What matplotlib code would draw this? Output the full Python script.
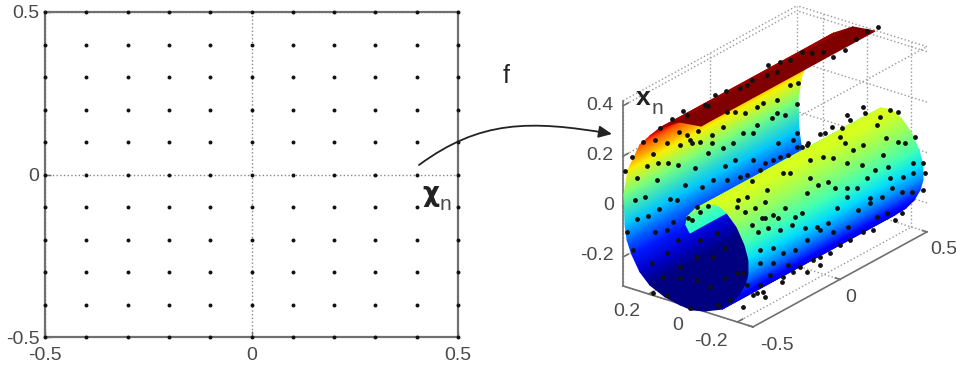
import numpy as np
import matplotlib
matplotlib.use('Agg')
import matplotlib.pyplot as plt
from matplotlib.patches import FancyArrowPatch
from matplotlib.path import Path

plt.rcParams['font.family'] = ['Liberation Sans', 'DejaVu Sans']

W, H = 956, 368
TXT = '#4a4a4a'
LINE = '#707070'

"----------------------------------- Data -----------------------------------"

# left panel: regular grid of samples
grid_x = [-0.5, -0.4, -0.3, -0.2, -0.1, 0, 0.1, 0.2, 0.3, 0.4, 0.5]
grid_y = [-0.5, -0.4, -0.3, -0.2, -0.1, 0, 0.1, 0.2, 0.3, 0.4, 0.5]
left_ticks = [-0.5, 0, 0.5]
left_labels = ['-0.5', '0', '0.5']

# right panel: cross section of the roll, free inner edge -> outer end
roll_y = [0.014, 0.032, 0.027, -0.009, -0.063, -0.113, -0.153, -0.198, -0.234,
          -0.252, -0.252, -0.239, -0.212, -0.176, -0.131, -0.054, 0.005, 0.059,
          0.126, 0.194, 0.239, 0.275, 0.297, 0.306, 0.311, 0.293, 0.239, 0.194,
          0.149, 0.063, -0.036]
roll_z = [-0.021, 0.006, 0.039, 0.080, 0.119, 0.125, 0.104, 0.062, 0.0,
          -0.055, -0.114, -0.157, -0.205, -0.246, -0.283, -0.312, -0.324, -0.319,
          -0.306, -0.278, -0.238, -0.180, -0.128, -0.070, 0.047, 0.151, 0.266, 0.314,
          0.358, 0.406, 0.417]
roll_x_ends = [-0.5, 0.5]

box_x = [-0.5, 0.5]
box_y = [-0.27, 0.315]
box_z = [-0.315, 0.42]
tick_x = [-0.5, 0, 0.5]
tick_y = [-0.2, 0, 0.2]
tick_z = [-0.2, 0, 0.2, 0.4]

dots_zoom = [
    (893, 80), (860, 92), (828, 118), (795, 150), (760, 170), (730, 155), (695, 158),
    (665, 157), (630, 180), (600, 185), (565, 195), (590, 215), (560, 225), (515, 240),
    (500, 255), (480, 265), (437, 272), (405, 285), (375, 315), (385, 318), (308, 332),
    (320, 345), (275, 358), (240, 383), (190, 425), (225, 420), (297, 395), (320, 405),
    (355, 393), (330, 420), (395, 405), (430, 380), (465, 335), (440, 335), (495, 340),
    (550, 308), (530, 320), (590, 300), (630, 255), (655, 250), (650, 313), (590, 340),
    (615, 345), (575, 355), (530, 375), (490, 400), (520, 400), (460, 430), (430, 445),
    (395, 430), (360, 425), (335, 430), (300, 435), (260, 430), (218, 462), (155, 470),
    (135, 512), (200, 497), (235, 490), (265, 488), (295, 495), (345, 505), (385, 458),
    (435, 497), (465, 480), (520, 480), (555, 490), (580, 480), (600, 470), (625, 465),
    (665, 440), (595, 430), (685, 430), (640, 420), (650, 400),
    (170, 535), (230, 540), (165, 600), (195, 590), (270, 597), (315, 555), (365, 560),
    (400, 540), (440, 540), (480, 530), (500, 525), (540, 510), (170, 658), (205, 648),
    (238, 628), (290, 600), (350, 620), (325, 655), (335, 660), (385, 617), (360, 635),
    (280, 665), (225, 695), (260, 690), (140, 697), (160, 750), (260, 760), (295, 720),
    (360, 720), (410, 700), (435, 745), (400, 770), (350, 770), (300, 800), (215, 790),
    (250, 830), (300, 835), (350, 840), (390, 860), (435, 835), (470, 820), (490, 820),
    (220, 880), (260, 885), (330, 925), (415, 915), (450, 900), (490, 920), (530, 880),
    (550, 875), (555, 890), (500, 855),
    (735, 400), (720, 402), (755, 380), (785, 385), (810, 360), (800, 345), (850, 320),
    (855, 340), (900, 350), (930, 330), (955, 335), (890, 375), (1005, 410), (975, 430),
    (955, 425), (918, 415), (850, 435), (820, 450), (795, 430), (780, 410), (730, 470),
    (680, 435), (650, 440), (690, 480), (760, 475), (800, 490), (845, 495), (910, 465),
    (885, 510), (925, 500), (1000, 490), (1030, 490), (1035, 520), (1000, 520), (970, 530),
    (930, 535), (860, 535), (690, 535), (715, 555), (745, 545), (765, 565), (800, 565),
    (830, 565), (905, 590), (935, 565), (965, 575), (995, 575), (1030, 570), (870, 595),
    (870, 610), (800, 590), (680, 578), (630, 520), (610, 518), (515, 543), (560, 570),
    (500, 590), (475, 600), (555, 605), (470, 620), (495, 635), (525, 625), (615, 625),
    (645, 650), (595, 655), (580, 645), (555, 655), (665, 640), (710, 680), (745, 670),
    (770, 625), (835, 630), (890, 650), (920, 640), (965, 640), (945, 660), (880, 690),
    (850, 695), (805, 680), (760, 695), (720, 690), (675, 685), (635, 675), (600, 690),
    (565, 685), (535, 695), (545, 655), (515, 675), (540, 750), (580, 745), (610, 760),
    (645, 750), (680, 720), (750, 760), (720, 770), (700, 780), (660, 800), (625, 795),
    (580, 790), (540, 790), (570, 825), (610, 830), (680, 815), (720, 795), (520, 885),
    (540, 855), (605, 845), (640, 815), (810, 720), (780, 735),
]
dot_px = [580 + p[0] / 3 for p in dots_zoom]
dot_py = [p[1] / 3 for p in dots_zoom]


def project(x, y, z):
    # oblique view of the 3d box, into picture pixels
    x, y, z = np.asarray(x, float), np.asarray(y, float), np.asarray(z, float)
    px = 693 + (x + 0.5) * 174 - y * 222
    py = 308 - (x + 0.5) * 95 - y * 70 - (z + 0.315) * 252
    return px, py


"-------------------------------- Left panel --------------------------------"

fig = plt.figure(figsize=(W / 100, H / 100), dpi=100)

ax = fig.add_axes([45 / W, 1 - 337 / H, (458 - 45) / W, (337 - 12) / H])
gx, gy = np.meshgrid(grid_x, grid_y)
ax.scatter(gx.ravel(), gy.ravel(), s=8, color='#111111', clip_on=False, zorder=3, linewidths=0)
ax.set_xlim(-0.5, 0.5)
ax.set_ylim(-0.5, 0.5)
ax.set_xticks(left_ticks, left_labels)
ax.set_yticks(left_ticks, left_labels)
ax.grid(True, linestyle=':', color='#888888', linewidth=1)
ax.tick_params(direction='in', length=4, width=1, color=LINE, labelcolor=TXT, labelsize=14)
ax.tick_params(axis='x', pad=7)
ax.tick_params(axis='y', pad=4)
for sp in ax.spines.values():
    sp.set_color(LINE)
    sp.set_linewidth(1.6)

"-------------------------------- Right panel -------------------------------"

ov = fig.add_axes([0, 0, 1, 1], facecolor='none')
ov.set_xlim(0, W)
ov.set_ylim(H, 0)
ov.axis('off')

# dotted box behind the roll
grid_kw = dict(linestyle=':', color='#999999', linewidth=1, zorder=1)
for xv in tick_x:
    ov.plot(*project([xv, xv], [box_y[1]] * 2, box_z), **grid_kw)
    ov.plot(*project([xv, xv], box_y, [box_z[0]] * 2), **grid_kw)
for yv in tick_y:
    ov.plot(*project([box_x[1]] * 2, [yv, yv], box_z), **grid_kw)
    ov.plot(*project(box_x, [yv, yv], [box_z[0]] * 2), **grid_kw)
for zv in tick_z + [box_z[1]]:
    ov.plot(*project(box_x, [box_y[1]] * 2, [zv, zv]), **grid_kw)
    ov.plot(*project([box_x[1]] * 2, box_y, [zv, zv]), **grid_kw)
ov.plot(*project(box_x, [box_y[0]] * 2, [box_z[1]] * 2), **grid_kw)

# solid axes
axis_kw = dict(color=LINE, linewidth=1.2, zorder=2)
ov.plot(*project([box_x[0]] * 2, [box_y[1]] * 2, box_z), **axis_kw)
ov.plot(*project([box_x[0]] * 2, box_y, [box_z[0]] * 2), **axis_kw)
ov.plot(*project(box_x, [box_y[0]] * 2, [box_z[0]] * 2), **axis_kw)
for zv in tick_z:
    ov.plot(*project([box_x[0], box_x[0] + 0.03], [box_y[1]] * 2, [zv, zv]), **axis_kw)
for yv in tick_y:
    ov.plot(*project([box_x[0], box_x[0] + 0.03], [yv, yv], [box_z[0]] * 2), **axis_kw)
for xv in tick_x:
    ov.plot(*project([xv, xv], [box_y[0], box_y[0] + 0.02], [box_z[0]] * 2), **axis_kw)


def draw_sheet(first, last, zorder, floor=-1.0):
    # one stretch of the cross section, swept along the long axis
    ys = np.array(roll_y[first:last])
    zs = np.array(roll_z[first:last])
    X = np.array([project(xe, ys, zs)[0] for xe in roll_x_ends])
    Y = np.array([project(xe, ys, zs)[1] for xe in roll_x_ends])
    C = np.maximum(np.array([zs, zs]), floor)
    ov.pcolormesh(X, Y, C, shading='gouraud', cmap='jet', vmin=-0.28, vmax=0.38, zorder=zorder)


draw_sheet(14, 31, 3)            # outer wall and flat red top
draw_sheet(0, 6, 4)              # inner curl
draw_sheet(4, 15, 5, floor=-0.22)  # near side of the roll stays bright blue at the edge

ov.scatter(dot_px, dot_py, s=12, color='#111111', linewidths=0, zorder=6, clip_on=False)

"------------------------------- Text, arrow --------------------------------"

label_kw = dict(color=TXT, fontsize=14, ha='center', va='center')
for lab, (lx, ly) in zip(['0.4', '0.2', '0', '-0.2'], [(600, 106), (600, 155), (609, 205), (597, 256)]):
    ov.text(lx, ly, lab, **label_kw)
for lab, (lx, ly) in zip(['0.2', '0', '-0.2'], [(627, 311), (678, 326), (711, 342)]):
    ov.text(lx, ly, lab, **label_kw)
for lab, (lx, ly) in zip(['-0.5', '0', '0.5'], [(777, 345), (851, 297), (944, 249)]):
    ov.text(lx, ly, lab, **label_kw)

ov.text(506, 76, 'f', fontsize=18, color='#222222', ha='center', va='center')
ov.text(431, 194, 'χ', fontsize=19, fontweight='bold', family=['DejaVu Sans'], color='#222222', ha='center', va='center')
ov.text(445, 204, 'n', fontsize=15, color=TXT, ha='center', va='center')
ov.text(643, 98, 'x', fontsize=19, fontweight='bold', color='#222222', ha='center', va='center')
ov.text(657, 109, 'n', fontsize=15, color=TXT, ha='center', va='center')

curve = Path([(419, 165), (480, 120), (530, 120), (612, 134)],
             [Path.MOVETO, Path.CURVE4, Path.CURVE4, Path.CURVE4])
ov.add_patch(FancyArrowPatch(path=curve, arrowstyle='-|>,head_length=7.9,head_width=3.6', mutation_scale=1,
                             color='#222222', linewidth=1.3, zorder=7))

fig.savefig('out.png', dpi=100)
